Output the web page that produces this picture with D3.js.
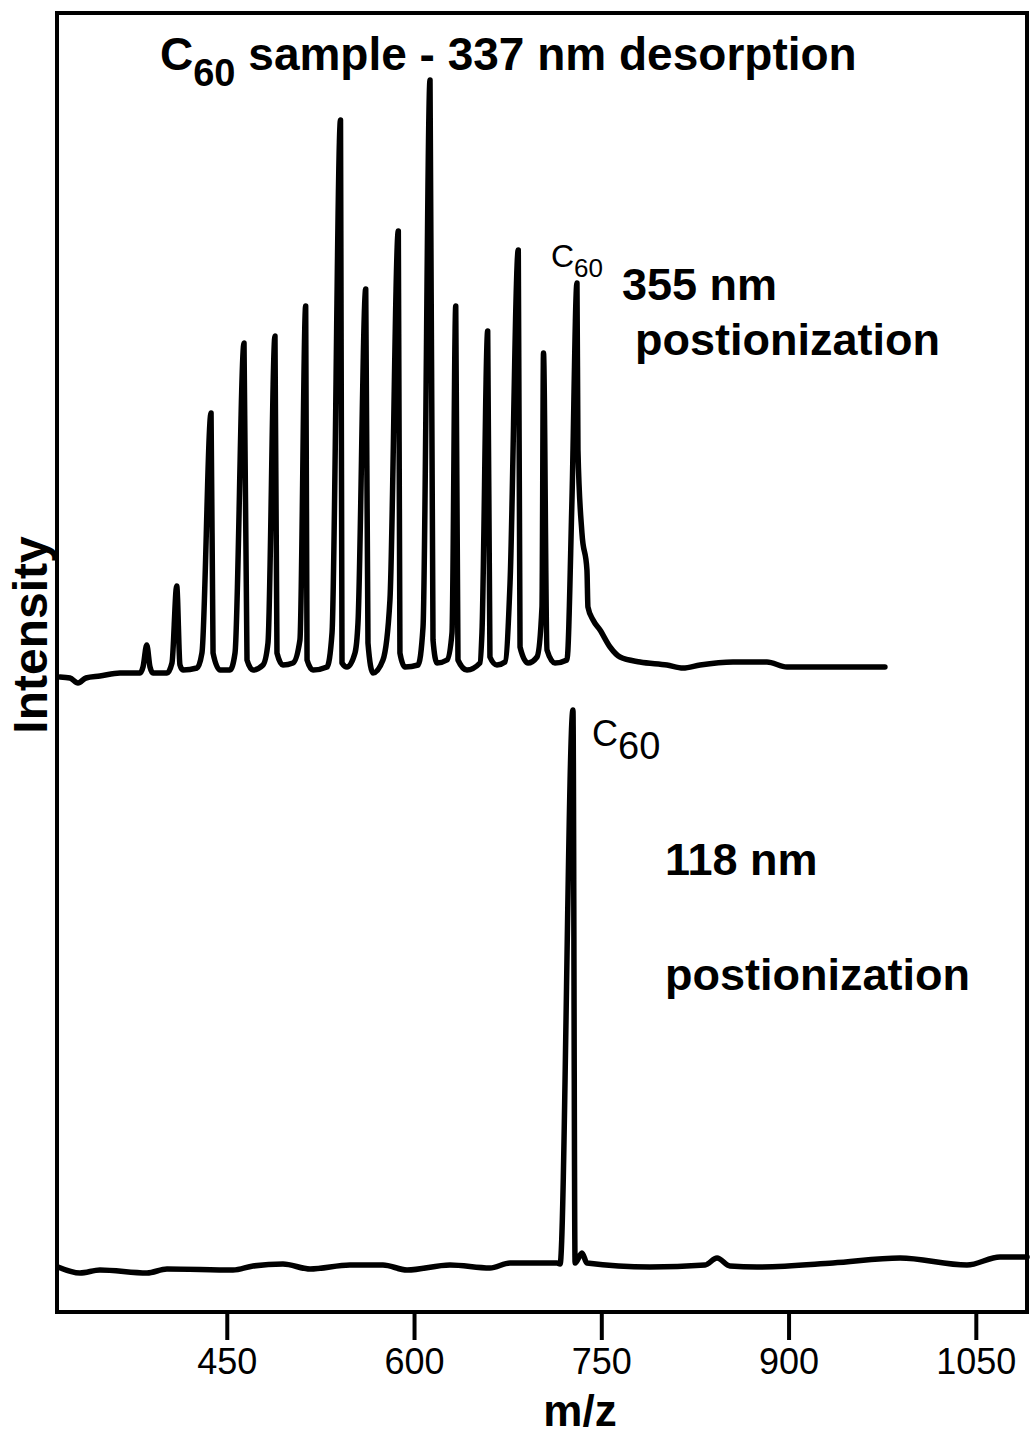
<!DOCTYPE html>
<html>
<head>
<meta charset="utf-8">
<script src="https://cdn.jsdelivr.net/npm/d3@7"></script>
<style>
  body { margin: 0; background: #fff; }
  svg { display: block; }
</style>
</head>
<body>
<script>
// spectrum traces: [m/z, intensity (a.u., relative to trace baseline)]
let topTrace = [
  [316.4, -0.5], [324.4, -0.6], [330.8, -1.1], [337.2, -0.6], [348.4, -0.4], [364.5, -0.1],
  [380.5, -0.1], [382.9, 0.5], [385.9, 2.7], [388.5, 0.5], [390.9, -0.1],
  [402.1, -0.1], [406.1, 0.9], [409.9, 8.6], [412.5, 0.7], [414.9, 0.2],
  [426.1, 0.4], [430.1, 1.9], [437.4, 25.9], [439.0, 1.9], [444.6, 0.2],
  [452.6, 0.2], [456.6, 1.9], [463.8, 32.9], [466.2, 1.2], [471.0, 0.2],
  [479.0, 0.7], [483.0, 2.9], [488.6, 33.6], [490.2, 1.9], [495.0, 0.7],
  [503.0, 0.9], [508.6, 3.2], [513.2, 36.6], [514.3, 1.2], [519.1, 0.2],
  [530.3, 0.5], [534.3, 3.9], [541.1, 55.2], [542.3, 0.9], [546.3, 0.5],
  [552.7, 1.9], [555.1, 4.9], [561.3, 38.3], [563.1, 2.9], [567.1, -0.1],
  [575.1, 1.2], [580.7, 7.2], [587.4, 44.1], [588.7, 1.9], [592.7, 0.5],
  [603.2, 0.7], [607.2, 4.5], [612.8, 59.2], [615.2, 3.2], [618.4, 0.9],
  [626.4, 1.2], [630.4, 3.9], [633.4, 36.6], [635.2, 1.2], [642.4, 0.2],
  [652.8, 0.9], [654.4, 3.9], [659.0, 34.1], [660.8, 1.5], [666.4, 0.7],
  [672.9, 1.0], [676.9, 8.9], [683.5, 42.2], [684.9, 2.5], [691.3, 0.9],
  [698.5, 1.5], [702.5, 6.5], [703.7, 31.9], [706.5, 2.2], [712.9, 0.9],
  [722.5, 1.2], [726.5, 17.2], [730.5, 38.9], [731.3, 22.2], [734.5, 13.9],
  [738.5, 10.2], [739.3, 6.5], [743.4, 5.2], [749.0, 4.2], [757.0, 2.5],
  [765.0, 1.5], [781.0, 1.0], [802.6, 0.7], [815.5, 0.4], [829.1, 0.7],
  [855.5, 1.0], [882.7, 1.0], [898.7, 0.5], [922.8, 0.5], [977.2, 0.5]
];
let bottomTrace = [
  [314.8, 0.1], [332.4, -0.5], [348.4, -0.2], [386.1, -0.5], [402.1, -0.1],
  [455.0, -0.2], [471.0, 0.2], [495.0, 0.4], [516.7, -0.1], [548.7, 0.3],
  [575.1, 0.3], [594.4, -0.2], [628.8, 0.3], [660.8, 0.0], [676.9, 0.5],
  [714.5, 0.5], [717.0, 0.4], [727.3, 55.8], [729.0, 0.5], [734.5, 1.5],
  [738.5, 0.5], [789.0, 0.1], [833.1, 0.3], [842.7, 1.0], [853.1, 0.2],
  [874.7, 0.1], [935.6, 0.5], [989.3, 1.0], [1042.9, 0.3], [1069.4, 1.1],
  [1091.0, 1.1]
];
let topBase = 64.0;
let bottomBase = 4.4;
let xTicks = [450, 600, 750, 900, 1050];

let W = 1033, H = 1439;
let box = { left: 57, right: 1027, top: 13, bottom: 1312 };
let font = "'Liberation Sans', Arial, Helvetica, sans-serif";

let svg = d3.select("body").append("svg")
  .attr("width", W).attr("height", H)
  .attr("viewBox", "0 0 " + W + " " + H);

let xScale = d3.scaleLinear().domain([314, 1091]).range([box.left, box.right]);
let yScale = d3.scaleLinear().domain([0, 130]).range([box.bottom, box.top - 1]);

// traces
let line = (base) => d3.line()
  .x(d => xScale(d[0]))
  .y(d => yScale(d[1] + base))
  .curve(d3.curveMonotoneX);

svg.append("path").datum(topTrace)
  .attr("d", line(topBase))
  .attr("fill", "none").attr("stroke", "#000").attr("stroke-width", 5.5)
  .attr("stroke-linejoin", "round").attr("stroke-linecap", "round");

svg.append("path").datum(bottomTrace)
  .attr("d", line(bottomBase))
  .attr("fill", "none").attr("stroke", "#000").attr("stroke-width", 5.5)
  .attr("stroke-linejoin", "round").attr("stroke-linecap", "round");

// frame
svg.append("rect")
  .attr("x", box.left).attr("y", box.top)
  .attr("width", box.right - box.left).attr("height", box.bottom - box.top)
  .attr("fill", "none").attr("stroke", "#000").attr("stroke-width", 4);

// x axis
let xAxis = svg.append("g")
  .attr("transform", "translate(0," + box.bottom + ")")
  .call(d3.axisBottom(xScale).tickValues(xTicks).tickFormat(d3.format("d"))
    .tickSize(28).tickPadding(8).tickSizeOuter(0));
xAxis.select(".domain").remove();
xAxis.selectAll(".tick line").attr("stroke", "#000").attr("stroke-width", 4);
xAxis.selectAll(".tick text")
  .attr("fill", "#000")
  .style("font-family", font).style("font-size", "36px");

svg.append("text")
  .attr("x", 580).attr("y", 1426)
  .attr("text-anchor", "middle")
  .style("font-family", font).style("font-size", "44px").style("font-weight", "bold")
  .text("m/z");

svg.append("text")
  .attr("transform", "translate(47,635) rotate(-90)")
  .attr("text-anchor", "middle")
  .style("font-family", font).style("font-size", "48px").style("font-weight", "bold")
  .text("Intensity");

// title
let title = svg.append("text")
  .attr("x", 160).attr("y", 70)
  .style("font-family", font).style("font-size", "46px").style("font-weight", "bold");
title.append("tspan").text("C");
title.append("tspan").attr("dy", 16).style("font-size", "38px").text("60");
title.append("tspan").attr("dy", -16).text(" sample - 337 nm desorption");

// peak labels
let c60Top = svg.append("text")
  .attr("x", 551).attr("y", 267)
  .style("font-family", font).style("font-size", "32px");
c60Top.append("tspan").text("C");
c60Top.append("tspan").attr("dy", 10).style("font-size", "26px").text("60");

let c60Bot = svg.append("text")
  .attr("x", 592).attr("y", 746)
  .style("font-family", font).style("font-size", "36px");
c60Bot.append("tspan").text("C");
c60Bot.append("tspan").attr("dy", 13).style("font-size", "38px").text("60");

let annot = [
  { x: 622, y: 300, t: "355 nm" },
  { x: 635, y: 355, t: "postionization" },
  { x: 665, y: 875, t: "118 nm" },
  { x: 665, y: 990, t: "postionization" }
];
svg.selectAll(".annot").data(annot).enter().append("text")
  .attr("class", "annot")
  .attr("x", d => d.x).attr("y", d => d.y)
  .style("font-family", font).style("font-size", "45px").style("font-weight", "bold")
  .text(d => d.t);
</script>
</body>
</html>
